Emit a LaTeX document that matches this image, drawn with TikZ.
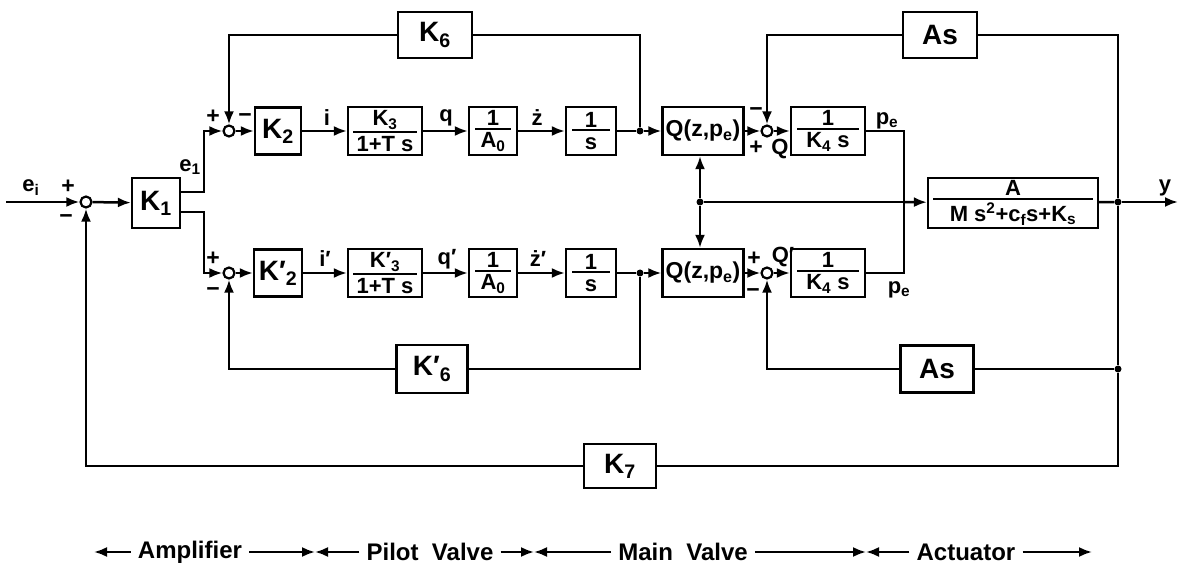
\documentclass[tikz,border=0pt]{standalone}
\usepackage{fontspec}
\setmainfont{Liberation Sans}
\usetikzlibrary{arrows.meta}
\newcommand{\fr}[3]{\vbox{\hbox to #3{\hss#1\hss}\kern2pt\hrule height 2pt\kern3pt\hbox to #3{\hss\vphantom{A}#2\hss}}}
\newcommand{\Kp}[1]{K′\textsubscript{#1}}
\begin{document}
\begin{tikzpicture}[x=1pt,y=-1pt,
 blk/.style={draw,line width=2.2pt,inner sep=0pt,font=\bfseries\fontsize{28}{30}\selectfont},
 fblk/.style={blk,font=\bfseries\fontsize{22}{25}\selectfont},
 sumj/.style={circle,draw,line width=2.2pt,fill=white,minimum size=11pt,inner sep=0pt},
 jdot/.style={circle,fill,minimum size=7pt,inner sep=0pt},
 lbl/.style={font=\bfseries\fontsize{22}{24}\selectfont,inner sep=0pt},
 sgn/.style={font=\bfseries\fontsize{23}{24}\selectfont,inner sep=0pt},
 conn/.style={line width=2.5pt},
 arr/.style={conn,-{Latex[length=13pt,width=10pt]}},
 sect/.style={font=\bfseries\fontsize{24}{26}\selectfont,inner xsep=7pt,inner ysep=0pt},
 secarr/.style={line width=2.2pt,-{Latex[length=13pt,width=10pt]}}]
\useasboundingbox (0,0) rectangle (1179,569);

% input and amplifier
\coordinate (ein) at (6,202);
\node[sumj] (s1) at (86,202) {};
\node[blk,minimum width=48,minimum height=50] (K1) at (156,203) {K\textsubscript{1}};
\node[sumj] (s2) at (229,131) {};
\node[sumj] (s3) at (229,273) {};

% upper row
\node[blk,minimum width=46,minimum height=47] (K2) at (278,131) {K\textsubscript{2}};
\node[fblk,minimum width=74,minimum height=48] (K3) at (385,131) {\fr{K\textsubscript{3}}{1+T s}{64pt}};
\node[fblk,minimum width=48,minimum height=48] (A0) at (493,131) {\fr{1}{A\textsubscript{0}}{36pt}};
\node[fblk,minimum width=50,minimum height=48] (S) at (591,131) {\fr{1}{s}{38pt}};
\node[jdot] (d1) at (640,131) {};
\node[blk,font=\bfseries\fontsize{23}{26}\selectfont,minimum width=81,minimum height=48] (Qu) at (703,131) {Q(z,p\textsubscript{e})};
\node[sumj] (s4) at (767,131) {};
\node[fblk,minimum width=74,minimum height=48] (K4) at (828,131) {\fr{1}{K\textsubscript{4} s}{62pt}};

% lower row
\node[blk,minimum width=48,minimum height=47] (K2p) at (278,273) {\Kp{2}};
\node[fblk,minimum width=74,minimum height=48] (K3p) at (385,273) {\fr{\Kp{3}}{1+T s}{64pt}};
\node[fblk,minimum width=48,minimum height=48] (A0p) at (493,273) {\fr{1}{A\textsubscript{0}}{36pt}};
\node[fblk,minimum width=50,minimum height=48] (Sp) at (591,273) {\fr{1}{s}{38pt}};
\node[jdot] (d2) at (640,273) {};
\node[blk,font=\bfseries\fontsize{23}{26}\selectfont,minimum width=81,minimum height=48] (Ql) at (703,273) {Q(z,p\textsubscript{e})};
\node[sumj] (s5) at (767,273) {};
\node[fblk,minimum width=74,minimum height=48] (K4p) at (828,273) {\fr{1}{K\textsubscript{4} s}{62pt}};

% centre
\node[jdot] (cdot) at (700,202) {};
\coordinate (cj) at (904,202);
\node[fblk,minimum width=170,minimum height=50] (G) at (1013,203) {\fr{A}{M s\textsuperscript{2}+c\textsubscript{f}s+K\textsubscript{s}}{160pt}};
\node[jdot] (odot) at (1118,202) {};
\coordinate (yend) at (1178,202);
\node[jdot] (bdot) at (1118,369) {};

% feedback boxes
\node[blk,minimum width=74,minimum height=46] (K6) at (435,35) {K\textsubscript{6}};
\node[blk,minimum width=74,minimum height=46] (As) at (940,35) {As};
\node[blk,minimum width=71,minimum height=48] (K6p) at (432,369) {\Kp{6}};
\node[blk,minimum width=73,minimum height=47] (Asp) at (937,369) {As};
\node[blk,minimum width=72,minimum height=44] (K7) at (620,466) {K\textsubscript{7}};

% connectors
\draw[arr] (ein) -- (s1);
\draw[arr] (s1) -- (K1);
\draw[arr] ([yshift=11pt]K1.east) -- ++(23,0) |- (s2);
\draw[arr] ([yshift=-9pt]K1.east) -- ++(23,0) |- (s3);
\draw[arr] (s2) -- (K2);
\draw[arr] (K2) -- (K3);
\draw[arr] (K3) -- (A0);
\draw[arr] (A0) -- (S);
\draw[conn] (S) -- (d1);
\draw[arr] (d1) -- (Qu);
\draw[arr] (Qu) -- (s4);
\draw[arr] (s4) -- (K4);
\draw[arr] (s3) -- (K2p);
\draw[arr] (K2p) -- (K3p);
\draw[arr] (K3p) -- (A0p);
\draw[arr] (A0p) -- (Sp);
\draw[conn] (Sp) -- (d2);
\draw[arr] (d2) -- (Ql);
\draw[arr] (Ql) -- (s5);
\draw[arr] (s5) -- (K4p);
\draw[conn] (K4) -| (cj);
\draw[conn] (K4p) -| (cj);
\draw[arr] (cj) -- (G);
\draw[conn] (cj) -- (cdot);
\draw[arr] (cdot) -- (cdot |- Qu.south);
\draw[arr] (cdot) -- (cdot |- Ql.north);
\draw[conn] (G) -- (odot);
\draw[arr] (odot) -- (yend);
\draw[conn] (d1) |- (K6);
\draw[arr] (K6) -| (s2);
\draw[conn] (odot) |- (As);
\draw[arr] (As) -| (s4);
\draw[conn] (d2) |- (K6p);
\draw[arr] (K6p) -| (s3);
\draw[conn] (odot) -- (bdot);
\draw[conn] (bdot) -- (Asp);
\draw[arr] (Asp) -| (s5);
\draw[conn] (bdot) |- (K7);
\draw[arr] (K7) -| (s1);

% labels
\node[lbl] (lei) at (31,188) {e\textsubscript{i}};
\node[sgn] (p1) at (68,187) {+};
\node[sgn] (m1) at (66,219) {−};
\node[lbl] (le1) at (190,167) {e\textsubscript{1}};
\node[sgn] (p2) at (213,117) {+};
\node[sgn] (m2) at (245,118) {−};
\node[sgn] (p3) at (213,259) {+};
\node[sgn] (m3) at (213,292) {−};
\node[lbl] (li) at (327,118) {i};
\node[lbl] (lq) at (446,118) {q};
\node[lbl] (lz) at (537,118) {ż};
\node[lbl] (lip) at (325,259) {i′};
\node[lbl] (lqp) at (447,259) {q′};
\node[lbl] (lzp) at (538,259) {ż′};
\node[sgn] (m4) at (756,112) {−};
\node[sgn] (p4) at (756,148) {+};
\node[lbl] (lQ) at (780,149) {Q};
\node[sgn] (p5) at (754,259) {+};
\node[lbl] (lQp) at (783,257) {Q′};
\node[sgn] (m5) at (753,293) {−};
\node[lbl] (lpe1) at (887,121) {p\textsubscript{e}};
\node[lbl] (lpe2) at (899,290) {p\textsubscript{e}};
\node[lbl] (ly) at (1165,188) {y};

% section labels
\coordinate (b0) at (94,552);
\coordinate (b1) at (315,552);
\coordinate (b2) at (534,552);
\coordinate (b3) at (866,552);
\coordinate (b4) at (1092,552);
\node[sect] (amp) at (190,552) {Amplifier};
\node[sect] (pil) at (430,552) {Pilot\ \ Valve};
\node[sect] (mvl) at (683,552) {Main\ \ Valve};
\node[sect] (act) at (966,552) {Actuator};
\draw[secarr] (amp.west) -- (b0);
\draw[secarr] (amp.east) -- (b1);
\draw[secarr] (pil.west) -- (b1);
\draw[secarr] (pil.east) -- (b2);
\draw[secarr] (mvl.west) -- (b2);
\draw[secarr] (mvl.east) -- (b3);
\draw[secarr] (act.west) -- (b3);
\draw[secarr] (act.east) -- (b4);
\end{tikzpicture}
\end{document}
